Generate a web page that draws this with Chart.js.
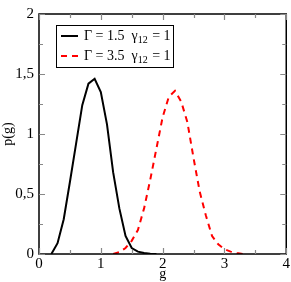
<!DOCTYPE html>
<html>
<head>
<meta charset="utf-8">
<script src="https://cdn.jsdelivr.net/npm/chart.js@4"></script>
<style>
  html, body { margin: 0; padding: 0; background: #fff; }
  #wrap { width: 291px; height: 282px; }
</style>
</head>
<body>
<div id="wrap"><canvas id="pg"></canvas></div>
<script>
// g values and p(g) for each curve
const gBlack = [0.2, 0.3, 0.4, 0.5, 0.6, 0.7, 0.8, 0.9, 1.0, 1.1, 1.2, 1.3, 1.4, 1.5, 1.6, 1.7, 1.8, 1.9];
const pBlack = [0.0, 0.09, 0.29, 0.6, 0.92, 1.24, 1.42, 1.46, 1.35, 1.08, 0.68, 0.38, 0.15, 0.05, 0.02, 0.008, 0.003, 0.0];
const gRed = [1.2, 1.3, 1.4, 1.5, 1.6, 1.7, 1.8, 1.9, 2.0, 2.1, 2.2, 2.3, 2.4, 2.5, 2.6, 2.7, 2.8, 2.9, 3.0, 3.1, 3.2, 3.3];
const pRed = [0.0, 0.015, 0.05, 0.11, 0.2, 0.38, 0.62, 0.88, 1.14, 1.31, 1.36, 1.27, 1.1, 0.8, 0.52, 0.32, 0.15, 0.08, 0.04, 0.02, 0.008, 0.0];
const seriesNames = ["Γ = 1.5  γ", "Γ = 3.5  γ"];
const xTicks = [0, 1, 2, 3, 4];
const yTicks = [0, 0.5, 1, 1.5, 2];

const serif = "'Liberation Serif', 'DejaVu Serif', serif";

function pts(xs, ys) {
    return xs.map((x, i) => ({ x: x, y: ys[i] }));
}

// frame + inward ticks (major and minor) on all four sides
const framePlugin = {
    id: "frame",
    afterDatasetsDraw(chart) {
        const ctx = chart.ctx;
        const a = chart.chartArea;
        const xs = chart.scales.x, ys = chart.scales.y;
        ctx.save();
        ctx.lineWidth = 1.5;
        ctx.strokeStyle = "#000";
        ctx.strokeRect(a.left, a.top, a.right - a.left, a.bottom - a.top);
        ctx.lineWidth = 1.2;
        ctx.strokeStyle = "#888";
        for (let v = 0; v <= 4.001; v += 0.5) {
            const px = Math.round(xs.getPixelForValue(v)) + 0.5;
            const len = (Math.abs(v - Math.round(v)) < 1e-6) ? 6 : 4;
            ctx.beginPath();
            ctx.moveTo(px, a.bottom); ctx.lineTo(px, a.bottom - len);
            ctx.moveTo(px, a.top); ctx.lineTo(px, a.top + len);
            ctx.stroke();
        }
        for (let v = 0; v <= 2.001; v += 0.25) {
            const py = Math.round(ys.getPixelForValue(v)) + 0.5;
            const len = (Math.abs(v * 2 - Math.round(v * 2)) < 1e-6) ? 6 : 4;
            ctx.beginPath();
            ctx.moveTo(a.left, py); ctx.lineTo(a.left + len, py);
            ctx.moveTo(a.right, py); ctx.lineTo(a.right - len, py);
            ctx.stroke();
        }
        ctx.restore();
    }
};

// boxed legend with subscript "12"
const legendPlugin = {
    id: "boxLegend",
    afterDraw(chart) {
        const ctx = chart.ctx;
        const bx = 56, by = 25, bw = 117, bh = 42;
        ctx.save();
        ctx.fillStyle = "#fff";
        ctx.fillRect(bx, by, bw, bh);
        ctx.lineWidth = 1;
        ctx.strokeStyle = "#000";
        ctx.strokeRect(bx + 0.5, by + 0.5, bw, bh);
        chart.data.datasets.forEach((ds, i) => {
            const cy = by + 11 + i * 20;
            ctx.beginPath();
            ctx.strokeStyle = ds.borderColor;
            ctx.lineWidth = 2;
            ctx.setLineDash(ds.borderDash || []);
            ctx.moveTo(bx + 5, cy);
            ctx.lineTo(bx + 22, cy);
            ctx.stroke();
            ctx.setLineDash([]);
            ctx.fillStyle = "#000";
            ctx.textBaseline = "middle";
            ctx.font = "14px " + serif;
            let tx = bx + 28;
            ctx.fillText(ds.label, tx, cy);
            tx += ctx.measureText(ds.label).width;
            ctx.font = "10px " + serif;
            ctx.fillText("12", tx, cy + 4);
            tx += ctx.measureText("12").width + 1;
            ctx.font = "14px " + serif;
            ctx.fillText(" = 1", tx, cy);
        });
        ctx.restore();
    }
};

new Chart(document.getElementById("pg").getContext("2d"), {
    type: "line",
    data: {
        datasets: [{
            label: seriesNames[0],
            data: pts(gBlack, pBlack),
            borderColor: "#000",
            borderWidth: 2,
            pointRadius: 0,
            tension: 0,
            fill: false
        }, {
            label: seriesNames[1],
            data: pts(gRed, pRed),
            borderColor: "#ff0000",
            borderWidth: 2,
            borderDash: [6, 5],
            pointRadius: 0,
            tension: 0,
            fill: false
        }]
    },
    options: {
        responsive: true,
        maintainAspectRatio: false,
        animation: false,
        layout: { padding: { top: 6, right: 4, left: 0, bottom: 0 } },
        plugins: { legend: { display: false }, tooltip: { enabled: false } },
        scales: {
            x: {
                type: "linear",
                min: 0, max: 4,
                afterBuildTicks: (s) => { s.ticks = xTicks.map(v => ({ value: v })); },
                afterFit: (s) => { s.height = 28; },
                grid: { display: false, drawTicks: false },
                border: { display: false },
                ticks: { color: "#000", font: { family: serif, size: 15 }, padding: 1, maxRotation: 0 },
                title: { display: true, text: "g", color: "#000", font: { family: serif, size: 14 }, padding: { top: 0, bottom: -1 } }
            },
            y: {
                type: "linear",
                min: 0, max: 2,
                afterBuildTicks: (s) => { s.ticks = yTicks.map(v => ({ value: v })); },
                afterFit: (s) => { s.width = 39; },
                grid: { display: false, drawTicks: false },
                border: { display: false },
                ticks: {
                    color: "#000", font: { family: serif, size: 15 }, padding: 5,
                    callback: (v) => String(v).replace(".", ",")
                },
                title: { display: true, text: "p(g)", color: "#000", font: { family: serif, size: 14 }, padding: { top: 0, bottom: 0 } }
            }
        }
    },
    plugins: [framePlugin, legendPlugin]
});
</script>
</body>
</html>
